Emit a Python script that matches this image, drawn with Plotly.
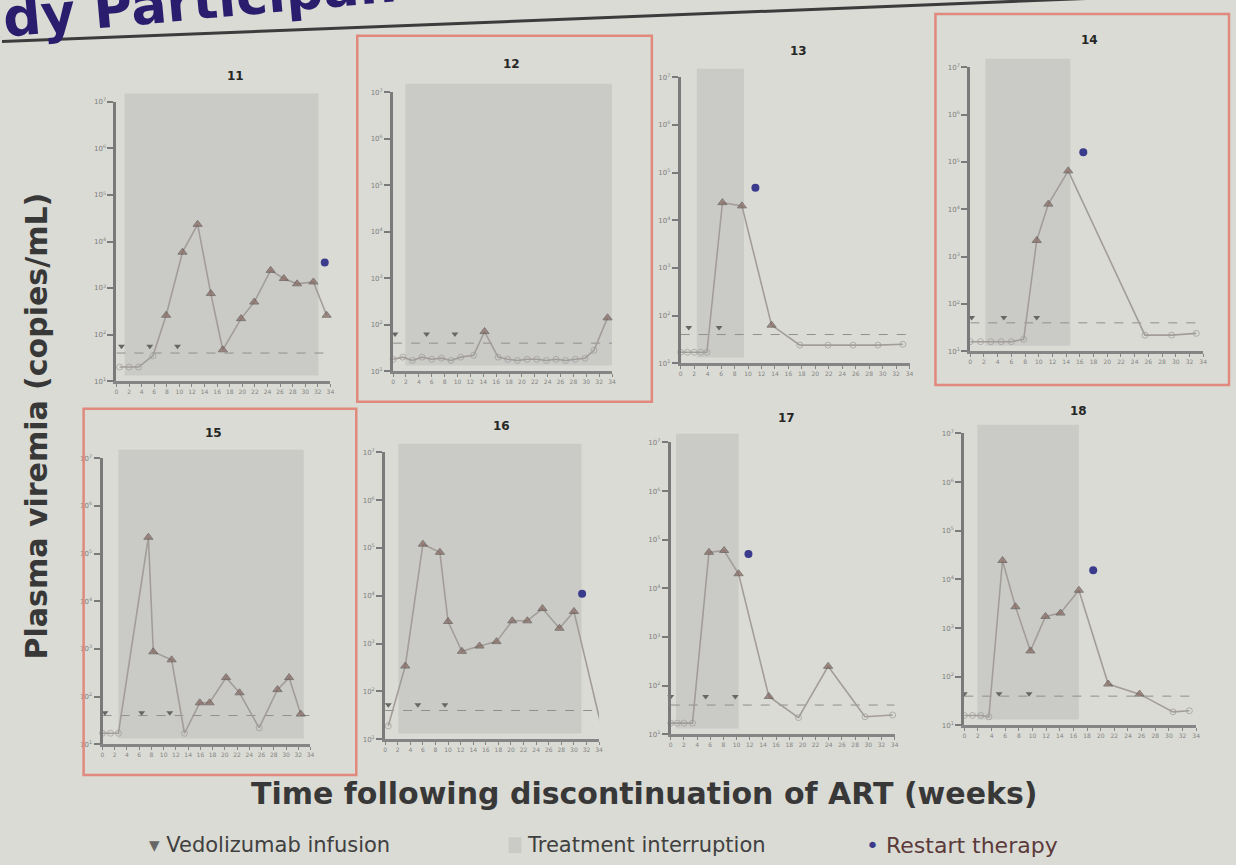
import plotly.graph_objects as go

W, H = 1236, 865

# ---------------- data ----------------
LOD_COPIES = 40  # limit of detection (copies/mL), dashed line

X_TICK_VALUES = [0, 2, 4, 6, 8, 10, 12, 14, 16, 18, 20, 22, 24, 26, 28, 30, 32, 34]
X_TICK_LABELS = ["0", "2", "4", "6", "8", "10", "12", "14", "16", "18", "20",
                 "22", "24", "26", "28", "30", "32", "34"]
Y_TICK_VALUES = [10, 100, 1000, 10000, 100000, 1000000, 10000000]
Y_TICK_LABELS = ["10<sup>1</sup>", "10<sup>2</sup>", "10<sup>3</sup>", "10<sup>4</sup>",
                 "10<sup>5</sup>", "10<sup>6</sup>", "10<sup>7</sup>"]

PANEL_NAMES = ["11", "12", "13", "14", "15", "16", "17", "18"]

P11_WEEKS = [0.5, 2, 3.5, 5.8, 7.9, 10.5, 12.9, 15.0, 16.9, 19.8, 21.9, 24.5, 26.6, 28.7, 31.3, 33.4]
P11_COPIES = [20, 20, 20, 35, 260, 5900, 23400, 760, 47, 220, 500, 2400, 1600, 1230, 1350, 260]
P11_VEDO_WEEKS = [0.8, 5.3, 9.7]
P11_VEDO_LEVEL = 56
P11_RESTART = [33.1, 3550]
P11_INTERRUPTION = [1.3, 32.1]

P12_WEEKS = [0, 1.5, 3, 4.5, 6, 7.5, 9, 10.5, 12.5, 14.2, 16.3, 17.8, 19.3, 20.8, 22.3,
             23.8, 25.3, 26.8, 28.3, 29.8, 31.2, 33.3]
P12_COPIES = [18, 20, 17, 20, 18, 19, 17, 20, 22, 71, 20, 18, 17, 18, 18, 17, 18, 17, 18, 19, 28, 140]
P12_VEDO_WEEKS = [0.3, 5.2, 9.6]
P12_VEDO_LEVEL = 63
P12_RESTART = None
P12_INTERRUPTION = [1.9, 34]

P13_WEEKS = [0, 1, 2, 3, 3.9, 6.2, 9.1, 13.5, 17.7, 21.9, 25.6, 29.3, 33.0]
P13_COPIES = [17, 17, 17, 17, 17, 23400, 20000, 63, 24, 24, 24, 24, 25]
P13_VEDO_WEEKS = [1.2, 5.7]
P13_VEDO_LEVEL = 56
P13_RESTART = [11.1, 48000]
P13_INTERRUPTION = [2.4, 9.4]

P14_WEEKS = [0, 1.5, 3, 4.5, 6, 7.8, 9.7, 11.4, 14.3, 25.5, 29.4, 33.0]
P14_COPIES = [16, 16, 16, 16, 16, 18, 2200, 12900, 65000, 22, 22, 24]
P14_VEDO_WEEKS = [0.2, 4.9, 9.7]
P14_VEDO_LEVEL = 52
P14_RESTART = [16.5, 160000]
P14_INTERRUPTION = [2.2, 14.6]

P15_WEEKS = [0, 1.3, 2.6, 7.5, 8.3, 11.3, 13.4, 15.9, 17.5, 20.2, 22.4, 25.6, 28.6, 30.5, 32.4]
P15_COPIES = [17, 17, 17, 220000, 870, 590, 17, 74, 74, 250, 120, 22, 140, 250, 43]
P15_VEDO_WEEKS = [0.4, 6.4, 11.0]
P15_VEDO_LEVEL = 46
P15_RESTART = [34.5, 110]
P15_INTERRUPTION = [2.6, 32.9]

P16_WEEKS = [0.5, 3.2, 6.0, 8.7, 10.0, 12.2, 15.0, 17.7, 20.2, 22.6, 25.0, 27.7, 30.0, 34.3]
P16_COPIES = [19, 340, 120000, 81000, 2900, 690, 890, 1100, 3000, 3000, 5400, 2100, 4700, 20]
P16_VEDO_WEEKS = [0.5, 5.2, 9.5]
P16_VEDO_LEVEL = 53
P16_RESTART = [31.3, 11000]
P16_INTERRUPTION = [2.1, 31.2]

P17_WEEKS = [0, 1, 2, 3.3, 5.8, 8.1, 10.3, 14.9, 19.4, 23.9, 29.5, 33.7]
P17_COPIES = [17, 17, 17, 17, 55000, 60000, 20000, 60, 22, 250, 23, 25]
P17_VEDO_WEEKS = [0, 5.3, 9.8]
P17_VEDO_LEVEL = 60
P17_RESTART = [11.8, 51000]
P17_INTERRUPTION = [0.8, 10.3]

P18_WEEKS = [0, 1.2, 2.4, 3.6, 5.6, 7.5, 9.7, 11.9, 14.1, 16.8, 21.1, 25.7, 30.6, 33.0]
P18_COPIES = [16, 16, 16, 15, 24500, 2750, 340, 1740, 2040, 6000, 71, 44, 19, 20]
P18_VEDO_WEEKS = [0, 5.1, 9.5]
P18_VEDO_LEVEL = 45
P18_RESTART = [18.9, 15500]
P18_INTERRUPTION = [1.9, 16.8]

PANEL_DATA = [
    (P11_WEEKS, P11_COPIES, P11_VEDO_WEEKS, P11_VEDO_LEVEL, P11_RESTART, P11_INTERRUPTION),
    (P12_WEEKS, P12_COPIES, P12_VEDO_WEEKS, P12_VEDO_LEVEL, P12_RESTART, P12_INTERRUPTION),
    (P13_WEEKS, P13_COPIES, P13_VEDO_WEEKS, P13_VEDO_LEVEL, P13_RESTART, P13_INTERRUPTION),
    (P14_WEEKS, P14_COPIES, P14_VEDO_WEEKS, P14_VEDO_LEVEL, P14_RESTART, P14_INTERRUPTION),
    (P15_WEEKS, P15_COPIES, P15_VEDO_WEEKS, P15_VEDO_LEVEL, P15_RESTART, P15_INTERRUPTION),
    (P16_WEEKS, P16_COPIES, P16_VEDO_WEEKS, P16_VEDO_LEVEL, P16_RESTART, P16_INTERRUPTION),
    (P17_WEEKS, P17_COPIES, P17_VEDO_WEEKS, P17_VEDO_LEVEL, P17_RESTART, P17_INTERRUPTION),
    (P18_WEEKS, P18_COPIES, P18_VEDO_WEEKS, P18_VEDO_LEVEL, P18_RESTART, P18_INTERRUPTION),
]

# ---------------- layout geometry (pixels) ----------------
# plot area: left, right, top, bottom
GEOM = {
    "11": (115, 330, 98, 380),
    "12": (393, 613, 88, 370),
    "13": (682, 912, 73, 362),
    "14": (973, 1207, 63, 350),
    "15": (101, 310, 458, 747),
    "16": (385, 600, 452, 742),
    "17": (672, 897, 442, 737),
    "18": (967, 1200, 433, 728),
}
TITLE_POS = {
    "11": (235, 72), "12": (512, 60), "13": (800, 46), "14": (1093, 35),
    "15": (213, 433), "16": (502, 425), "17": (788, 417), "18": (1082, 410),
}
RED_BOXES = {
    "12": (357, 31, 653, 401),
    "14": (938, 9, 1233, 384),
    "15": (82, 408, 356, 778),
}

BG = "#dadbd4"
SHADE = "#cacbc7"
AXIS_C = "#858585"
LINE_C = "#a39d9a"
TRI_C = "#86675f"
OPEN_C = "#9b9b9b"
VEDO_C = "#666666"
RESTART_C = "#3a3b8c"
FONT = "DejaVu Sans"


def px(x):
    return x / W


def py(y):
    return 1 - y / H


fig = go.Figure()
layout = dict(
    width=W, height=H,
    margin=dict(l=0, r=0, t=0, b=0),
    paper_bgcolor=BG, plot_bgcolor="rgba(0,0,0,0)",
    showlegend=False,
    font=dict(family=FONT, color="#333333"),
)
shapes = []
annotations = []

for i, (name, data) in enumerate(zip(PANEL_NAMES, PANEL_DATA), start=1):
    weeks, copies, vedo_weeks, vedo_level, restart, interruption = data
    sfx = "" if i == 1 else str(i)
    xa, ya = "x" + sfx, "y" + sfx
    left, right, top, bottom = GEOM[name]

    layout["xaxis" + sfx] = dict(
        domain=[px(left), px(right)], anchor=ya, range=[0, 34],
        tickvals=X_TICK_VALUES, ticktext=X_TICK_LABELS,
        tickfont=dict(size=6, color="#858585", family=FONT),
        showline=True, linecolor=AXIS_C, linewidth=2.5,
        ticks="outside", ticklen=3, tickcolor=AXIS_C, tickwidth=1,
        showgrid=False, zeroline=False, fixedrange=True,
    )
    layout["yaxis" + sfx] = dict(
        domain=[py(bottom), py(top)], anchor=xa, type="log", range=[1, 7],
        tickvals=Y_TICK_VALUES, ticktext=Y_TICK_LABELS,
        tickfont=dict(size=7, color="#7e7e7e", family=FONT),
        showline=True, linecolor="#7a7a7a", linewidth=3,
        ticks="outside", ticklen=6, tickcolor="#7a7a7a", tickwidth=2,
        showgrid=False, zeroline=False, fixedrange=True,
    )

    # treatment interruption shading
    shapes.append(dict(
        type="rect", xref=xa, yref=ya + " domain",
        x0=interruption[0], x1=interruption[1], y0=0.02, y1=1.03,
        fillcolor=SHADE, line=dict(width=0), layer="below",
    ))

    # limit of detection
    fig.add_trace(go.Scatter(
        x=[0, 34], y=[LOD_COPIES, LOD_COPIES], mode="lines",
        line=dict(color="#8f8f8f", width=1, dash="dash"),
        xaxis=xa, yaxis=ya, hoverinfo="skip", cliponaxis=False,
    ))

    symbols = ["triangle-up" if c >= LOD_COPIES else "circle-open" for c in copies]
    colors = [TRI_C if c >= LOD_COPIES else OPEN_C for c in copies]
    sizes = [8 if c >= LOD_COPIES else 6 for c in copies]
    fig.add_trace(go.Scatter(
        x=weeks, y=copies, mode="lines+markers",
        line=dict(color=LINE_C, width=1.6),
        marker=dict(symbol=symbols, color=colors, size=sizes,
                    line=dict(color="#5f5654", width=1)),
        xaxis=xa, yaxis=ya, cliponaxis=False, name="Plasma viremia",
    ))

    fig.add_trace(go.Scatter(
        x=vedo_weeks, y=[vedo_level] * len(vedo_weeks), mode="markers",
        marker=dict(symbol="triangle-down", color=VEDO_C, size=6),
        xaxis=xa, yaxis=ya, cliponaxis=False, name="Vedolizumab infusion",
    ))

    if restart is not None:
        fig.add_trace(go.Scatter(
            x=[restart[0]], y=[restart[1]], mode="markers",
            marker=dict(symbol="circle", color=RESTART_C, size=8),
            xaxis=xa, yaxis=ya, cliponaxis=False, name="Restart therapy",
        ))

    tx, ty = TITLE_POS[name]
    annotations.append(dict(
        text="<b>" + name + "</b>", x=px(tx), y=py(ty), xref="paper", yref="paper",
        xanchor="center", yanchor="middle",
        showarrow=False, font=dict(size=12, color="#262626", family=FONT),
    ))

for name, (x0, y0, x1, y1) in RED_BOXES.items():
    shapes.append(dict(
        type="rect", xref="paper", yref="paper",
        x0=px(x0), x1=px(x1), y0=py(y1), y1=py(y0),
        line=dict(color="#e0897c", width=2.5), fillcolor="rgba(0,0,0,0)",
    ))

# slide title (partially outside the photo, as in the reference) and its rule
annotations.append(dict(
    text="<b>Study Participants</b>", x=px(176), y=1.0028, xref="paper", yref="paper",
    xanchor="center", yanchor="middle", textangle=-5.2, showarrow=False,
    font=dict(size=53, color="#2a1d6e", family=FONT),
))
shapes.append(dict(
    type="line", xref="paper", yref="paper",
    x0=0, y0=py(37), x1=1, y1=py(37 - 1236 * 0.04),
    line=dict(color="#3c3c3c", width=3),
))

# shared axis titles
annotations.append(dict(
    text="<b>Plasma viremia (copies/mL)</b>", x=px(35), y=py(425), xref="paper", yref="paper",
    xanchor="center", yanchor="middle",
    textangle=-90, showarrow=False, font=dict(size=30, color="#383838", family=FONT),
))
annotations.append(dict(
    text="<b>Time following discontinuation of ART (weeks)</b>", x=px(646), y=py(797),
    xref="paper", yref="paper", xanchor="center", yanchor="middle", showarrow=False,
    font=dict(size=30, color="#383838", family=FONT),
))

# legend row
annotations.append(dict(
    text="<span style='color:#666666'>▾</span> Vedolizumab infusion", x=px(146), y=py(849),
    xref="paper", yref="paper", xanchor="left", yanchor="middle", showarrow=False,
    font=dict(size=21, color="#404040", family=FONT),
))
shapes.append(dict(
    type="rect", xref="paper", yref="paper", x0=px(509), x1=px(522), y0=py(857), y1=py(841),
    fillcolor=SHADE, line=dict(width=0),
))
annotations.append(dict(
    text="Treatment interruption", x=px(526), y=py(849),
    xref="paper", yref="paper", xanchor="left", yanchor="middle", showarrow=False,
    font=dict(size=21, color="#404040", family=FONT),
))
annotations.append(dict(
    text="<span style='color:#3a3b8c'>•</span> Restart therapy", x=px(866), y=py(849),
    xref="paper", yref="paper", xanchor="left", yanchor="middle", showarrow=False,
    font=dict(size=22, color="#5a3a3a", family=FONT),
))

layout["shapes"] = shapes
layout["annotations"] = annotations
fig.update_layout(**layout)

fig.write_html(
    "out.html",
    config={"displayModeBar": False},
    post_script="document.body.style.margin='0px';document.body.style.overflow='hidden';",
)
